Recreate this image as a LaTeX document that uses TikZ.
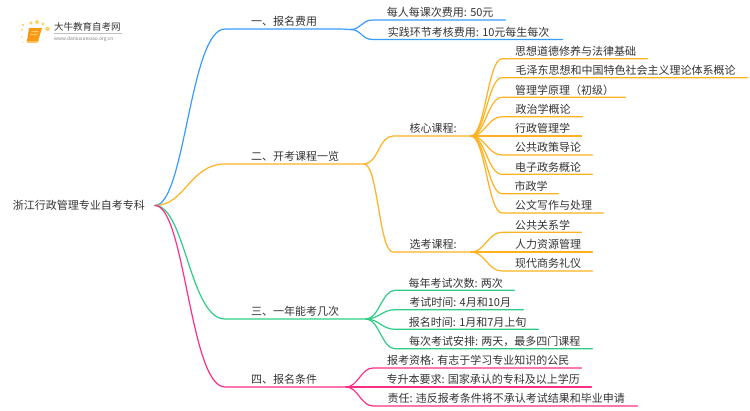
\documentclass[tikz,border=0pt]{standalone}
\usepackage{fontspec}
\usepackage{xcolor}
\setmainfont{Noto Sans CJK SC}
\definecolor{ink}{HTML}{333333}
\definecolor{cblue}{HTML}{3A9BFF}
\definecolor{corange}{HTML}{FFB11F}
\definecolor{cgreen}{HTML}{2ECC85}
\definecolor{cpink}{HTML}{FF2E85}
\definecolor{sun}{HTML}{FFD56B}
\definecolor{bookc}{HTML}{F79A12}
\definecolor{bookl}{HTML}{FCC76A}
\tikzset{
  lab/.style={text=ink, font=\fontsize{11}{13}\selectfont, inner xsep=0pt, inner ysep=1pt, text height=9.5pt, text depth=2pt, anchor=south west, execute at begin node={\hspace*{2pt}}},
  wire/.style={line width=1.2pt, line cap=round, line join=round},
  ray/.style={circle, fill=sun, inner sep=0pt},
}
\begin{document}
\begin{tikzpicture}[x=1pt,y=-1pt]
  \useasboundingbox (0,0) rectangle (750,410);
  % logo
  \foreach \px/\py/\pr in {23/25/1.3, 31/23/1.8, 37/22/2, 43/24/1.6, 47.5/29/2.3, 22/30/1.1, 22/37/0.9, 23/42/0.7}
    \node[ray, minimum size=2*\pr] at (\px,\py) {};
  \fill[bookl] (27,39) -- (38,39) -- (39,41) -- (37,43) -- (28,43) -- (26.5,42) -- cycle;
  \fill[bookc] (29,28) -- (42,28) -- (38,41) -- (27,41) -- cycle;
  \fill[bookl] (31.5,31) -- (38.5,31) -- (38.2,32) -- (31.2,32) -- cycle;
  \fill[bookl] (30.5,34) -- (37.5,34) -- (37.2,35) -- (30.2,35) -- cycle;
  \node[text=ink, font=\fontsize{9.5}{11}\selectfont, inner sep=0pt, anchor=west] (brand) at (54,27) {大牛教育自考网};
  \node[text=gray, font=\fontsize{4.9}{6}\selectfont, inner sep=0pt, anchor=west] (site) at (54,39) {www.daniuxuexiao.org.cn};
  \draw[lightgray, line width=0.4pt] (brand.south west) ++(0,1.5) -- ++(68,0);
  % root
  \node[text=ink, font=\fontsize{11}{13}\selectfont, inner xsep=10pt, inner ysep=2pt, anchor=east] (root) at (155,205.5) {浙江行政管理专业自考专科};
  % branches
  \node[lab, minimum width=116pt] (fee) at (225,29) {一、报名费用};
  \node[lab, minimum width=138pt] (course) at (225,164) {二、开考课程一览};
  \node[lab, minimum width=138pt] (times) at (225,319) {三、一年能考几次};
  \node[lab, minimum width=116pt] (apply) at (225,387) {四、报名条件};
  \coordinate (feehub) at (350,29.5);
  \coordinate (coursehub) at (364,164);
  \coordinate (timeshub) at (366,319);
  \coordinate (applyhub) at (346,387);
  % fee leaves
  \node[lab, minimum width=132pt] (fee1) at (373,20) {每人每课次费用: 50元};
  \node[lab, minimum width=189pt] (fee2) at (373,39.5) {实践环节考核费用: 10元每生每次};
  % course groups
  \node[lab, minimum width=78pt] (core) at (393,136) {核心课程:};
  \node[lab, minimum width=78pt] (opt) at (393,252) {选考课程:};
  \coordinate (corehub) at (471,136);
  \coordinate (opthub) at (471,252);
  \node[lab, minimum width=145pt] (core1) at (502,58.7) {思想道德修养与法律基础};
  \node[lab, minimum width=245pt] (core2) at (502,77.7) {毛泽东思想和中国特色社会主义理论体系概论};
  \node[lab, minimum width=123pt] (core3) at (502,97.3) {管理学原理（初级）};
  \node[lab, minimum width=80pt] (core4) at (502,116.7) {政治学概论};
  \node[lab, minimum width=79pt] (core5) at (502,136) {行政管理学};
  \node[lab, minimum width=90pt] (core6) at (502,155) {公共政策导论};
  \node[lab, minimum width=90pt] (core7) at (502,174.3) {电子政务概论};
  \node[lab, minimum width=56pt] (core8) at (502,193.7) {市政学};
  \node[lab, minimum width=101pt] (core9) at (502,213) {公文写作与处理};
  \node[lab, minimum width=79pt] (opt1) at (502,232.3) {公共关系学};
  \node[lab, minimum width=90pt] (opt2) at (502,252) {人力资源管理};
  \node[lab, minimum width=90pt] (opt3) at (502,271) {现代商务礼仪};
  % times leaves
  \node[lab, minimum width=119pt] (times1) at (395,290.3) {每年考试次数: 两次};
  \node[lab, minimum width=128pt] (times2) at (395,309.7) {考试时间: 4月和10月};
  \node[lab, minimum width=143pt] (times3) at (395,329.3) {报名时间: 1月和7月上旬};
  \node[lab, minimum width=197pt] (times4) at (395,348.7) {每次考试安排: 两天，最多四门课程};
  % apply leaves
  \node[lab, minimum width=208pt] (apply1) at (373,368) {报考资格: 有志于学习专业知识的公民};
  \node[lab, minimum width=218pt] (apply2) at (373,387) {专升本要求: 国家承认的专科及以上学历};
  \node[lab, minimum width=264pt] (apply3) at (373,406) {责任: 违反报考条件将不承认考试结果和毕业申请};
  % connectors
  \draw[wire, cblue] (root.east) .. controls +(30,0) and +(-35,0) .. (fee.south west) -- (fee.south east) -- (feehub);
  \draw[wire, corange] (root.east) .. controls +(30,0) and +(-35,0) .. (course.south west) -- (course.south east) -- (coursehub);
  \draw[wire, cgreen] (root.east) .. controls +(30,0) and +(-35,0) .. (times.south west) -- (times.south east) -- (timeshub);
  \draw[wire, cpink] (root.east) .. controls +(30,0) and +(-35,0) .. (apply.south west) -- (apply.south east) -- (applyhub);
  \foreach \leaf in {fee1,fee2}
    \draw[wire, cblue] (feehub) .. controls +(12,0) and +(-12,0) .. (\leaf.south west) -- (\leaf.south east);
  \foreach \leaf in {core,opt}
    \draw[wire, corange] (coursehub) .. controls +(14,0) and +(-14,0) .. (\leaf.south west) -- (\leaf.south east) -- (\leaf hub);
  \foreach \leaf in {core1,core2,core3,core4,core5,core6,core7,core8,core9}
    \draw[wire, corange] (corehub) .. controls +(14,0) and +(-14,0) .. (\leaf.south west) -- (\leaf.south east);
  \foreach \leaf in {opt1,opt2,opt3}
    \draw[wire, corange] (opthub) .. controls +(14,0) and +(-14,0) .. (\leaf.south west) -- (\leaf.south east);
  \foreach \leaf in {times1,times2,times3,times4}
    \draw[wire, cgreen] (timeshub) .. controls +(13,0) and +(-13,0) .. (\leaf.south west) -- (\leaf.south east);
  \foreach \leaf in {apply1,apply2,apply3}
    \draw[wire, cpink] (applyhub) .. controls +(12,0) and +(-12,0) .. (\leaf.south west) -- (\leaf.south east);
\end{tikzpicture}
\end{document}
